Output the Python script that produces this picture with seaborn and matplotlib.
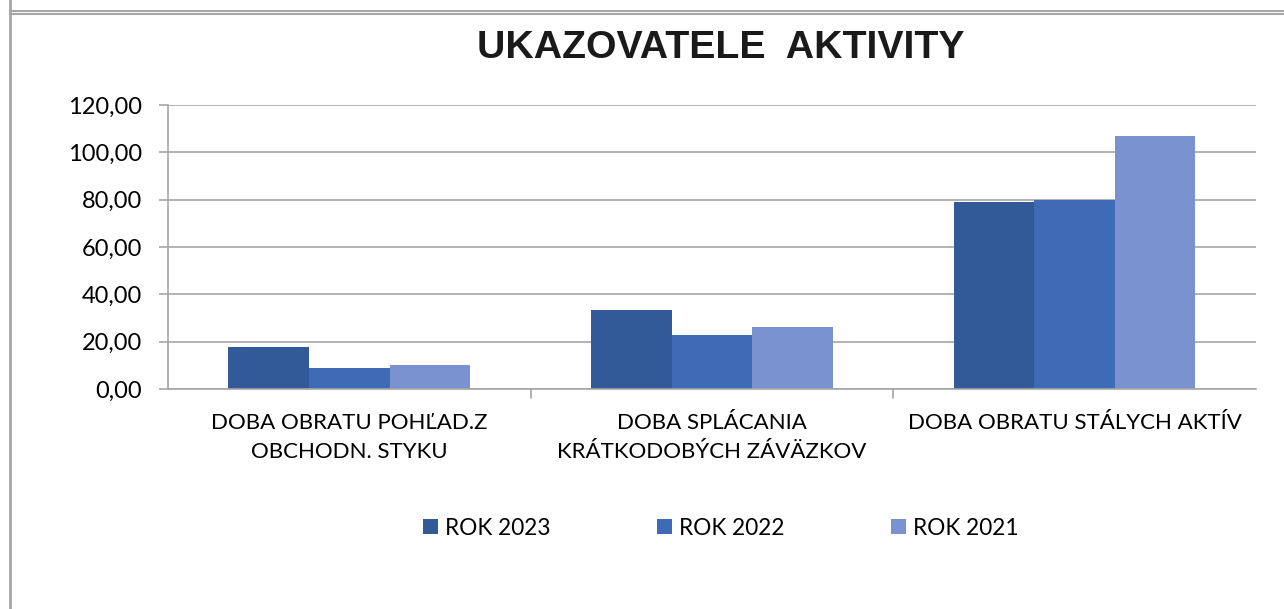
import pandas as pd
import matplotlib.pyplot as plt
import seaborn as sns
from matplotlib.lines import Line2D
from matplotlib.patches import Patch

categories = ["DOBA OBRATU POHĽAD.Z\nOBCHODN. STYKU",
              "DOBA SPLÁCANIA\nKRÁTKODOBÝCH ZÁVÄZKOV",
              "DOBA OBRATU STÁLYCH AKTÍV"]
years = ["ROK 2023", "ROK 2022", "ROK 2021"]
rok_2023 = [17.7, 33.4, 79.0]
rok_2022 = [9.0, 22.8, 80.0]
rok_2021 = [10.1, 26.2, 106.9]
colors = ["#335A98", "#3E6AB6", "#7A92CF"]
yticks = [0, 20, 40, 60, 80, 100, 120]

rows = []
for year, vals in zip(years, [rok_2023, rok_2022, rok_2021]):
    for cat, v in zip(categories, vals):
        rows.append({"kategoria": cat, "rok": year, "hodnota": v})
data = pd.DataFrame(rows)

sns.set_style("white")
plt.rcParams['font.family'] = ['Lato', 'DejaVu Sans']
plt.rcParams['text.color'] = 'black'
plt.rcParams['xtick.color'] = 'black'
plt.rcParams['ytick.color'] = 'black'

fig = plt.figure(figsize=(12.84, 6.09), dpi=100)
ax = fig.add_axes([0.1308, 0.3612, 0.8472, 0.4664])

sns.barplot(data=data, x="kategoria", y="hodnota", hue="rok", order=categories,
            hue_order=years, palette=colors, width=0.667, gap=0, saturation=1,
            linewidth=0, ax=ax, legend=False)

ax.set_xlim(-0.5, 2.5)
ax.set_ylim(0, 120)
ax.set_yticks(yticks)
ax.set_yticklabels([f"{t:.2f}".replace(".", ",") for t in yticks], fontsize=17)
ax.yaxis.grid(True, color="#a6a6a6", linewidth=1.2)
ax.set_axisbelow(True)
ax.set_xlabel("")
ax.set_ylabel("")
ax.set_xticks([0, 1, 2])
ax.set_xticklabels(categories, fontsize=16, linespacing=1.6)
ax.tick_params(axis="x", length=0, pad=17)
ax.tick_params(axis="y", length=6.5, width=1.2, color="#a6a6a6", labelcolor="black",
               pad=12, left=True)
for x in [0.5, 1.5]:
    ax.plot([x, x], [0, -0.03], transform=ax.get_xaxis_transform(),
            color="#a6a6a6", lw=1.2, clip_on=False)
for s in ["top", "right"]:
    ax.spines[s].set_visible(False)
for s in ["left", "bottom"]:
    ax.spines[s].set_color("#a6a6a6")
    ax.spines[s].set_linewidth(1.2)

fig.text(0.561, 0.922, "UKAZOVATELE  AKTIVITY", ha="center", va="center",
         fontsize=28.3, fontweight="bold", family="Liberation Sans", color="#1a1a1a")

handles = [Patch(facecolor=c, edgecolor="none") for c in colors]
fig.legend(handles, years, loc="center", bbox_to_anchor=(0.5615, 0.133), ncol=3,
           frameon=False, fontsize=16.3, handlelength=0.66, handleheight=0.66,
           handletextpad=0.31, columnspacing=4.7)

# frame lines of the embedding sheet
fig.add_artist(Line2D([10 / 1284, 10 / 1284], [0, 1], color="#a6a6a6", lw=2))
fig.add_artist(Line2D([10 / 1284, 1], [1 - 11 / 609, 1 - 11 / 609], color="#a6a6a6", lw=1.5))
fig.add_artist(Line2D([10 / 1284, 1], [1 - 14 / 609, 1 - 14 / 609], color="#a6a6a6", lw=1.5))

fig.savefig("out.png", dpi=100)
